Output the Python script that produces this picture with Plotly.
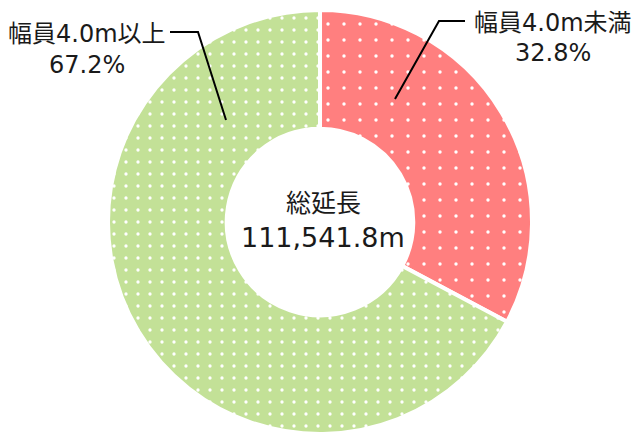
import plotly.graph_objects as go

# Road width breakdown (share of total length)
categories = ["幅員4.0m未満", "幅員4.0m以上"]
shares = [32.8, 67.2]
slice_colors = ["#FF7F7F", "#C3E197"]
total_label = "総延長"
total_value = "111,541.8m"

W, H = 635, 434
FONT = "DejaVu Sans, Noto Sans CJK JP, sans-serif"
TEXT_COLOR = "#1a1a1a"


def px(x, y):
    """Pixel position (from top-left) to paper coordinates."""
    return x / W, 1 - y / H


fig = go.Figure(
    go.Pie(
        labels=categories,
        values=shares,
        sort=False,
        direction="clockwise",
        rotation=0,
        hole=0.44,
        textinfo="none",
        hoverinfo="label+percent",
        showlegend=False,
        domain=dict(x=[0.0079, 1.0], y=[0.0, 424 / H]),
        marker=dict(
            colors=slice_colors,
            line=dict(color="white", width=4),
            pattern=dict(
                shape=[".", "."],
                fillmode="overlay",
                fgcolor="white",
                fgopacity=1,
                size=[16, 12],
                solidity=[0.035, 0.06],
            ),
        ),
    )
)

annotations = []

# Centre caption
for text, y, size in [(total_label, 203, 25), (total_value, 238, 27)]:
    ax, ay = px(323, y)
    annotations.append(dict(
        x=ax, y=ay, xref="paper", yref="paper", text=text, showarrow=False,
        xanchor="center", yanchor="middle",
        font=dict(family=FONT, size=size, color=TEXT_COLOR),
    ))

# Outside labels: category name and percentage
label_pos = [(553, 23, 53), (87, 34, 65)]
for cat, val, (cx, y1, y2) in zip(categories, shares, label_pos):
    for text, y in [(cat, y1), (f"{val:.1f}%", y2)]:
        ax, ay = px(cx, y)
        annotations.append(dict(
            x=ax, y=ay, xref="paper", yref="paper", text=text, showarrow=False,
            xanchor="center", yanchor="middle",
            font=dict(family=FONT, size=24, color=TEXT_COLOR),
        ))

# Leader lines from labels into the slices
leaders = [
    [(465, 21), (439, 21), (395, 99)],
    [(170, 32), (198, 32), (226, 120)],
]
shapes = []
for pts in leaders:
    path = "M " + " L ".join(f"{px(x, y)[0]},{px(x, y)[1]}" for x, y in pts)
    shapes.append(dict(type="path", path=path, xref="paper", yref="paper",
                       line=dict(color="black", width=2)))

fig.update_layout(
    width=W, height=H,
    margin=dict(l=0, r=0, t=0, b=0),
    paper_bgcolor="white",
    plot_bgcolor="white",
    annotations=annotations,
    shapes=shapes,
)

fig.write_html("out.html")
